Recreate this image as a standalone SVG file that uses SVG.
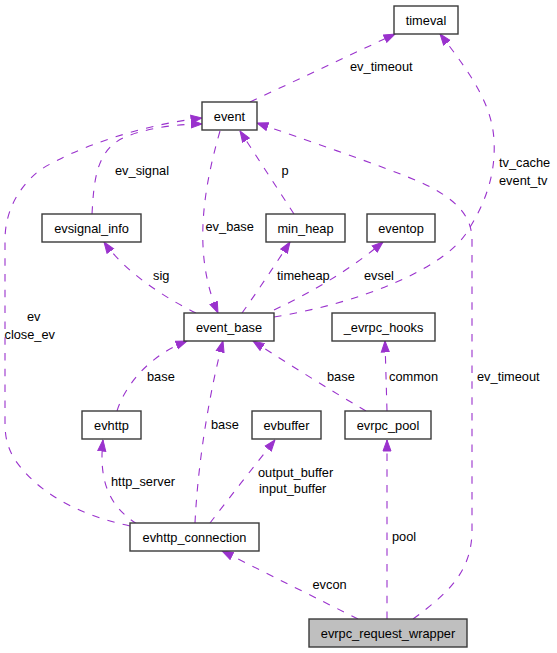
<svg xmlns="http://www.w3.org/2000/svg" width="557" height="653" viewBox="0 0 557 653">
<style>
.n rect{fill:#fff;stroke:#3a3a3a;stroke-width:1.4}
.n text{font-family:"Liberation Sans",Arial,sans-serif;font-size:12.8px;fill:#000;text-anchor:middle}
.e path{fill:none;stroke:#9a32cd;stroke-width:1.1;stroke-dasharray:7.5,8.3;marker-end:url(#a)}
.l text{font-family:"Liberation Sans",Arial,sans-serif;font-size:12.8px;fill:#000}
</style>
<defs>
<marker id="a" markerWidth="12" markerHeight="10" refX="11.5" refY="5" orient="auto" markerUnits="userSpaceOnUse" viewBox="0 0 12 10">
<path d="M0.5,1 L11.5,5 L0.5,9 z" fill="#9a32cd" stroke="#9a32cd" stroke-width="1" stroke-dasharray="none"/>
</marker>
</defs>
<rect width="557" height="653" fill="#fff"/>
<g class="e" id="edges">
<path d="M250,102 L395,34"/>
<path d="M274,317 C 360,303 440,270 465,235 C 485,205 496,175 494,140 C 492,105 472,75 440,34"/>
<path d="M413,619 C 450,592 472,570 472,530 L472,240 C 472,215 455,198 420,182 C 380,165 300,138 257,123"/>
<path d="M220,131 C 200,200 195,260 218,313"/>
<path d="M92,214 C 94,180 96,150 125,137 C 150,127 180,124 202,124"/>
<path d="M130,526 C 80,515 40,495 15,460 C 6,445 5,435 5,420 L5,240 C 5,215 15,190 40,170 C 75,148 140,125 202,118"/>
<path d="M294,214 L240,131"/>
<path d="M196,313 C 165,298 125,272 104,242"/>
<path d="M242,313 C 255,295 275,265 290,242"/>
<path d="M274,310 C 310,293 350,270 383,242"/>
<path d="M117,411 C 125,385 150,355 187,341"/>
<path d="M195,523 C 198,460 210,390 223,341"/>
<path d="M366,411 C 330,390 290,365 253,341"/>
<path d="M387,411 L385,341"/>
<path d="M137,524 C 112,508 98,485 103,440"/>
<path d="M210,523 C 230,497 255,465 275,440"/>
<path d="M358,619 C 320,600 270,575 222,551"/>
<path d="M387,619 L387,440"/>
</g>
<g class="l" id="labels">
<text x="350" y="71">ev_timeout</text>
<text x="499" y="167">tv_cache</text>
<text x="499" y="184.5">event_tv</text>
<text x="477" y="381">ev_timeout</text>
<text x="115" y="175">ev_signal</text>
<text x="205.5" y="231">ev_base</text>
<text x="281.5" y="175">p</text>
<text x="153" y="279.5">sig</text>
<text x="277" y="279.5">timeheap</text>
<text x="364" y="279.5">evsel</text>
<text x="27" y="321">ev</text>
<text x="4.5" y="338.5">close_ev</text>
<text x="147" y="381">base</text>
<text x="211" y="429">base</text>
<text x="327" y="381">base</text>
<text x="389" y="381">common</text>
<text x="111" y="485.5">http_server</text>
<text x="258" y="476.5">output_buffer</text>
<text x="259" y="493">input_buffer</text>
<text x="312.5" y="588.5">evcon</text>
<text x="392" y="541">pool</text>
</g>
<g class="n" id="timeval"><rect x="394" y="6" width="64" height="28"/><text x="426" y="24.5">timeval</text></g>
<g class="n" id="event"><rect x="202" y="102" width="55" height="28"/><text x="229.5" y="120.5">event</text></g>
<g class="n" id="evsignal_info"><rect x="42" y="214" width="99" height="28"/><text x="91.5" y="232.5">evsignal_info</text></g>
<g class="n" id="min_heap"><rect x="266" y="214" width="79" height="28"/><text x="305.5" y="232.5">min_heap</text></g>
<g class="n" id="eventop"><rect x="367" y="214" width="68" height="28"/><text x="401" y="232.5">eventop</text></g>
<g class="n" id="event_base"><rect x="184" y="313" width="90" height="28"/><text x="229" y="331.5">event_base</text></g>
<g class="n" id="_evrpc_hooks"><rect x="332" y="313" width="103" height="28"/><text x="383.5" y="331.5">_evrpc_hooks</text></g>
<g class="n" id="evhttp"><rect x="82" y="411" width="59" height="28"/><text x="111.5" y="429.5">evhttp</text></g>
<g class="n" id="evbuffer"><rect x="252" y="411" width="69" height="28"/><text x="286.5" y="429.5">evbuffer</text></g>
<g class="n" id="evrpc_pool"><rect x="345" y="411" width="86" height="28"/><text x="388" y="429.5">evrpc_pool</text></g>
<g class="n" id="evhttp_connection"><rect x="130" y="523" width="129" height="28"/><text x="194.5" y="541.5">evhttp_connection</text></g>
<g class="n" id="evrpc_request_wrapper"><rect x="309" y="619" width="158" height="28" style="fill:#bfbfbf"/><text x="388" y="637.5">evrpc_request_wrapper</text></g>
</svg>
